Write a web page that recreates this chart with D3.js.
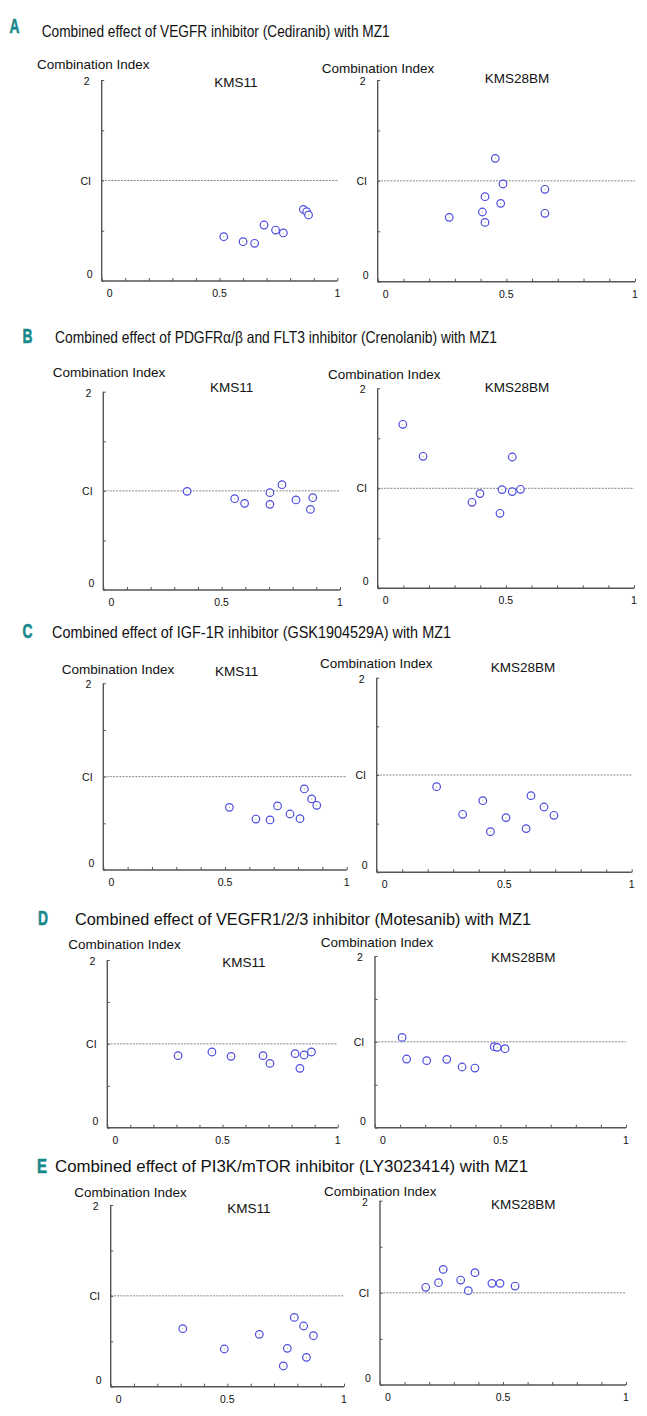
<!DOCTYPE html>
<html>
<head>
<meta charset="utf-8">
<script src="https://cdn.jsdelivr.net/npm/d3@7"></script>
<style>
  body { margin: 0; background: #fff; }
  svg { display: block; font-family: "Liberation Sans", Arial, sans-serif; }
</style>
</head>
<body>
<svg id="chart" width="647" height="1416"></svg>
<script>
// ---------------- DATA ----------------
const sectionLetters = ["A", "B", "C", "D", "E"];
const sectionTitles = [
  "Combined effect of VEGFR inhibitor (Cediranib) with MZ1",
  "Combined effect of PDGFR\u03b1/\u03b2  and FLT3 inhibitor (Crenolanib) with MZ1",
  "Combined effect of IGF-1R inhibitor (GSK1904529A) with MZ1",
  "Combined effect of VEGFR1/2/3 inhibitor (Motesanib) with MZ1",
  "Combined effect of PI3K/mTOR inhibitor (LY3023414) with MZ1"
];
const cellLines = ["KMS11", "KMS28BM"];
const yAxisTitle = "Combination Index";
const xTickValues = [0, 0.5, 1];
const xTickLabels = ["0", "0.5", "1"];
const yTickValues = [0, 1, 2];
const yTickLabels = ["0", "CI", "2"];
const ciReference = 1;

// fraction affected (x) and combination index (y)
const A_KMS11_fa   = [0.518, 0.600, 0.649, 0.689, 0.738, 0.771, 0.856, 0.870, 0.878];
const A_KMS11_ci   = [0.441, 0.391, 0.375, 0.557, 0.507, 0.478, 0.713, 0.690, 0.657];
const A_KMS28BM_fa = [0.278, 0.457, 0.487, 0.417, 0.478, 0.407, 0.417, 0.650, 0.650];
const A_KMS28BM_ci = [0.638, 1.223, 0.969, 0.843, 0.777, 0.691, 0.588, 0.916, 0.678];

const B_KMS11_fa   = [0.354, 0.555, 0.597, 0.704, 0.755, 0.704, 0.814, 0.885, 0.875];
const B_KMS11_ci   = [0.995, 0.921, 0.874, 0.982, 1.062, 0.864, 0.908, 0.931, 0.813];
const B_KMS28BM_fa = [0.098, 0.177, 0.525, 0.485, 0.525, 0.557, 0.399, 0.368, 0.477];
const B_KMS28BM_ci = [1.640, 1.320, 1.313, 0.987, 0.967, 0.990, 0.947, 0.860, 0.750];

const C_KMS11_fa   = [0.518, 0.627, 0.685, 0.716, 0.767, 0.808, 0.826, 0.856, 0.877];
const C_KMS11_ci   = [0.671, 0.546, 0.536, 0.686, 0.600, 0.550, 0.868, 0.761, 0.693];
const C_KMS28BM_fa = [0.235, 0.337, 0.416, 0.446, 0.507, 0.586, 0.605, 0.656, 0.695];
const C_KMS28BM_ci = [0.880, 0.596, 0.736, 0.418, 0.562, 0.449, 0.788, 0.671, 0.586];

const D_KMS11_fa   = [0.307, 0.454, 0.537, 0.676, 0.706, 0.815, 0.854, 0.886, 0.836];
const D_KMS11_ci   = [0.859, 0.903, 0.851, 0.859, 0.767, 0.883, 0.867, 0.903, 0.708];
const D_KMS28BM_fa = [0.108, 0.126, 0.206, 0.286, 0.347, 0.398, 0.475, 0.487, 0.518];
const D_KMS28BM_ci = [1.052, 0.800, 0.781, 0.796, 0.707, 0.695, 0.944, 0.936, 0.920];

const E_KMS11_fa   = [0.309, 0.487, 0.637, 0.787, 0.827, 0.869, 0.757, 0.839, 0.740];
const E_KMS11_ci   = [0.639, 0.415, 0.576, 0.763, 0.668, 0.561, 0.422, 0.323, 0.228];
const E_KMS28BM_fa = [0.186, 0.238, 0.257, 0.328, 0.359, 0.386, 0.455, 0.488, 0.549];
const E_KMS28BM_ci = [1.060, 1.110, 1.255, 1.139, 1.024, 1.219, 1.103, 1.103, 1.074];

const seriesFa = [
  [A_KMS11_fa, A_KMS28BM_fa], [B_KMS11_fa, B_KMS28BM_fa], [C_KMS11_fa, C_KMS28BM_fa],
  [D_KMS11_fa, D_KMS28BM_fa], [E_KMS11_fa, E_KMS28BM_fa]
];
const seriesCi = [
  [A_KMS11_ci, A_KMS28BM_ci], [B_KMS11_ci, B_KMS28BM_ci], [C_KMS11_ci, C_KMS28BM_ci],
  [D_KMS11_ci, D_KMS28BM_ci], [E_KMS11_ci, E_KMS28BM_ci]
];

// ---------------- LAYOUT ----------------
const headerLayout = [
  { lx: 9.5,  ly: 33,   tx: 41.7, tw: 348,  ty: 37 },
  { lx: 22.5, ly: 343,  tx: 55,   tw: 442,  ty: 342.5 },
  { lx: 22.5, ly: 638,  tx: 52,   tw: 399,  ty: 638 },
  { lx: 38,   ly: 925,  tx: 75,   tw: 456,  ty: 925 },
  { lx: 37,   ly: 1173, tx: 55,   tw: 473,  ty: 1172 }
];
const panelLayout = [
  [ { x0: 101.7, x1: 337.3, yT: 80,    yB: 281,    ttx: 37,    tty: 68.5, cx: 236,   cy: 87 },
    { x0: 377.7, x1: 635,   yT: 80,    yB: 281.7,  ttx: 321.7, tty: 72.5, cx: 517,   cy: 83 } ],
  [ { x0: 103.3, x1: 340,   yT: 391.7, yB: 590,    ttx: 52.7,  tty: 377,  cx: 231.7, cy: 392 },
    { x0: 377.7, x1: 634,   yT: 388.3, yB: 588.3,  ttx: 328,   tty: 379,  cx: 517,   cy: 392 } ],
  [ { x0: 103.3, x1: 346.7, yT: 683.3, yB: 870,    ttx: 61.7,  tty: 674,  cx: 236.7, cy: 675.7 },
    { x0: 376.7, x1: 631.7, yT: 677.7, yB: 872.3,  ttx: 320,   tty: 668,  cx: 523,   cy: 672 } ],
  [ { x0: 107.3, x1: 337.7, yT: 960,   yB: 1127.7, ttx: 68.3,  tty: 949,  cx: 244,   cy: 967 },
    { x0: 375,   x1: 626,   yT: 956,   yB: 1127.7, ttx: 320.7, tty: 946.5,cx: 523.3, cy: 961.7 } ],
  [ { x0: 110.7, x1: 344,   yT: 1205,  yB: 1386.7, ttx: 74.3,  tty: 1197, cx: 249,   cy: 1213 },
    { x0: 380,   x1: 626,   yT: 1200.7,yB: 1385,   ttx: 324,   tty: 1195.5, cx: 523.3, cy: 1209 } ]
];

const teal = "#17898a";
const axisColor = "#555";
const pointColor = "#4c4ce0";

const svg = d3.select("#chart");

sectionLetters.forEach((L, i) => {
  const h = headerLayout[i];
  svg.append("text").attr("x", h.lx).attr("y", h.ly)
    .attr("font-size", 21).attr("font-weight", "bold").attr("fill", teal)
    .attr("stroke", teal).attr("stroke-width", 0.6)
    .attr("textLength", 10).attr("lengthAdjust", "spacingAndGlyphs")
    .text(L);
  svg.append("text").attr("x", h.tx).attr("y", h.ty)
    .attr("font-size", 16.5).attr("fill", "#111")
    .attr("textLength", h.tw).attr("lengthAdjust", "spacingAndGlyphs")
    .text(sectionTitles[i]);
});

panelLayout.forEach((row, si) => {
  row.forEach((p, ci) => {
    const x = d3.scaleLinear().domain([0, 1]).range([p.x0, p.x1]);
    const y = d3.scaleLinear().domain([0, 2]).range([p.yB, p.yT]);
    const g = svg.append("g");

    g.append("text").attr("x", p.ttx).attr("y", p.tty)
      .attr("font-size", 13.5).attr("fill", "#111").text(yAxisTitle);
    g.append("text").attr("x", p.cx).attr("y", p.cy)
      .attr("font-size", 13.5).attr("fill", "#111").attr("text-anchor", "middle")
      .text(cellLines[ci]);

    g.append("line")
      .attr("x1", x(0)).attr("x2", x(1))
      .attr("y1", y(ciReference)).attr("y2", y(ciReference))
      .attr("stroke", "#777").attr("stroke-width", 0.9)
      .attr("stroke-dasharray", "2,1.2");

    const xAxis = d3.axisBottom(x).tickValues(d3.range(0, 1.0001, 0.1))
      .tickSize(-3).tickFormat("");
    const gx = g.append("g").attr("transform", `translate(0,${p.yB})`).call(xAxis);
    gx.select(".domain").attr("stroke", axisColor).attr("stroke-width", 1.4)
      .attr("d", `M${x(0)},0H${x(1)}`);
    gx.selectAll(".tick line").attr("stroke", axisColor).attr("stroke-width", 1);

    const yAxis = d3.axisLeft(y).tickValues([0, 0.5, 1, 1.5, 2])
      .tickSize(-2.5).tickFormat("");
    const gy = g.append("g").attr("transform", `translate(${p.x0},0)`).call(yAxis);
    gy.select(".domain").attr("stroke", axisColor).attr("stroke-width", 1.4)
      .attr("d", `M0,${y(2)}V${y(0)}`);
    gy.selectAll(".tick line").attr("stroke", axisColor).attr("stroke-width", 1);

    xTickValues.forEach((v, k) => {
      const off = v === 0 ? 8 : 0;
      g.append("text").attr("x", x(v) + off).attr("y", p.yB + 16)
        .attr("font-size", 10.5).attr("fill", "#111").attr("text-anchor", "middle")
        .text(xTickLabels[k]);
    });
    yTickValues.forEach((v, k) => {
      const dx = v === 1 ? -16 : (v === 2 ? -15 : -12);
      const dy = v === 0 ? -3 : (v === 2 ? 5 : 4);
      g.append("text").attr("x", p.x0 + dx).attr("y", y(v) + dy)
        .attr("font-size", 10.5).attr("fill", "#111").attr("text-anchor", "middle")
        .text(yTickLabels[k]);
    });

    const fa = seriesFa[si][ci], cis = seriesCi[si][ci];
    const pts = fa.map((d, k) => ({ fa: d, ci: cis[k] }));
    g.selectAll("circle.pt").data(pts).enter().append("circle")
      .attr("class", "pt")
      .attr("cx", d => x(d.fa)).attr("cy", d => y(d.ci)).attr("r", 3.8)
      .attr("fill", "#fff").attr("stroke", pointColor).attr("stroke-width", 1.2);
    g.selectAll("circle.dot").data(pts).enter().append("circle")
      .attr("class", "dot")
      .attr("cx", d => x(d.fa)).attr("cy", d => y(d.ci)).attr("r", 0.5)
      .attr("fill", "#888");
  });
});
</script>
</body>
</html>
